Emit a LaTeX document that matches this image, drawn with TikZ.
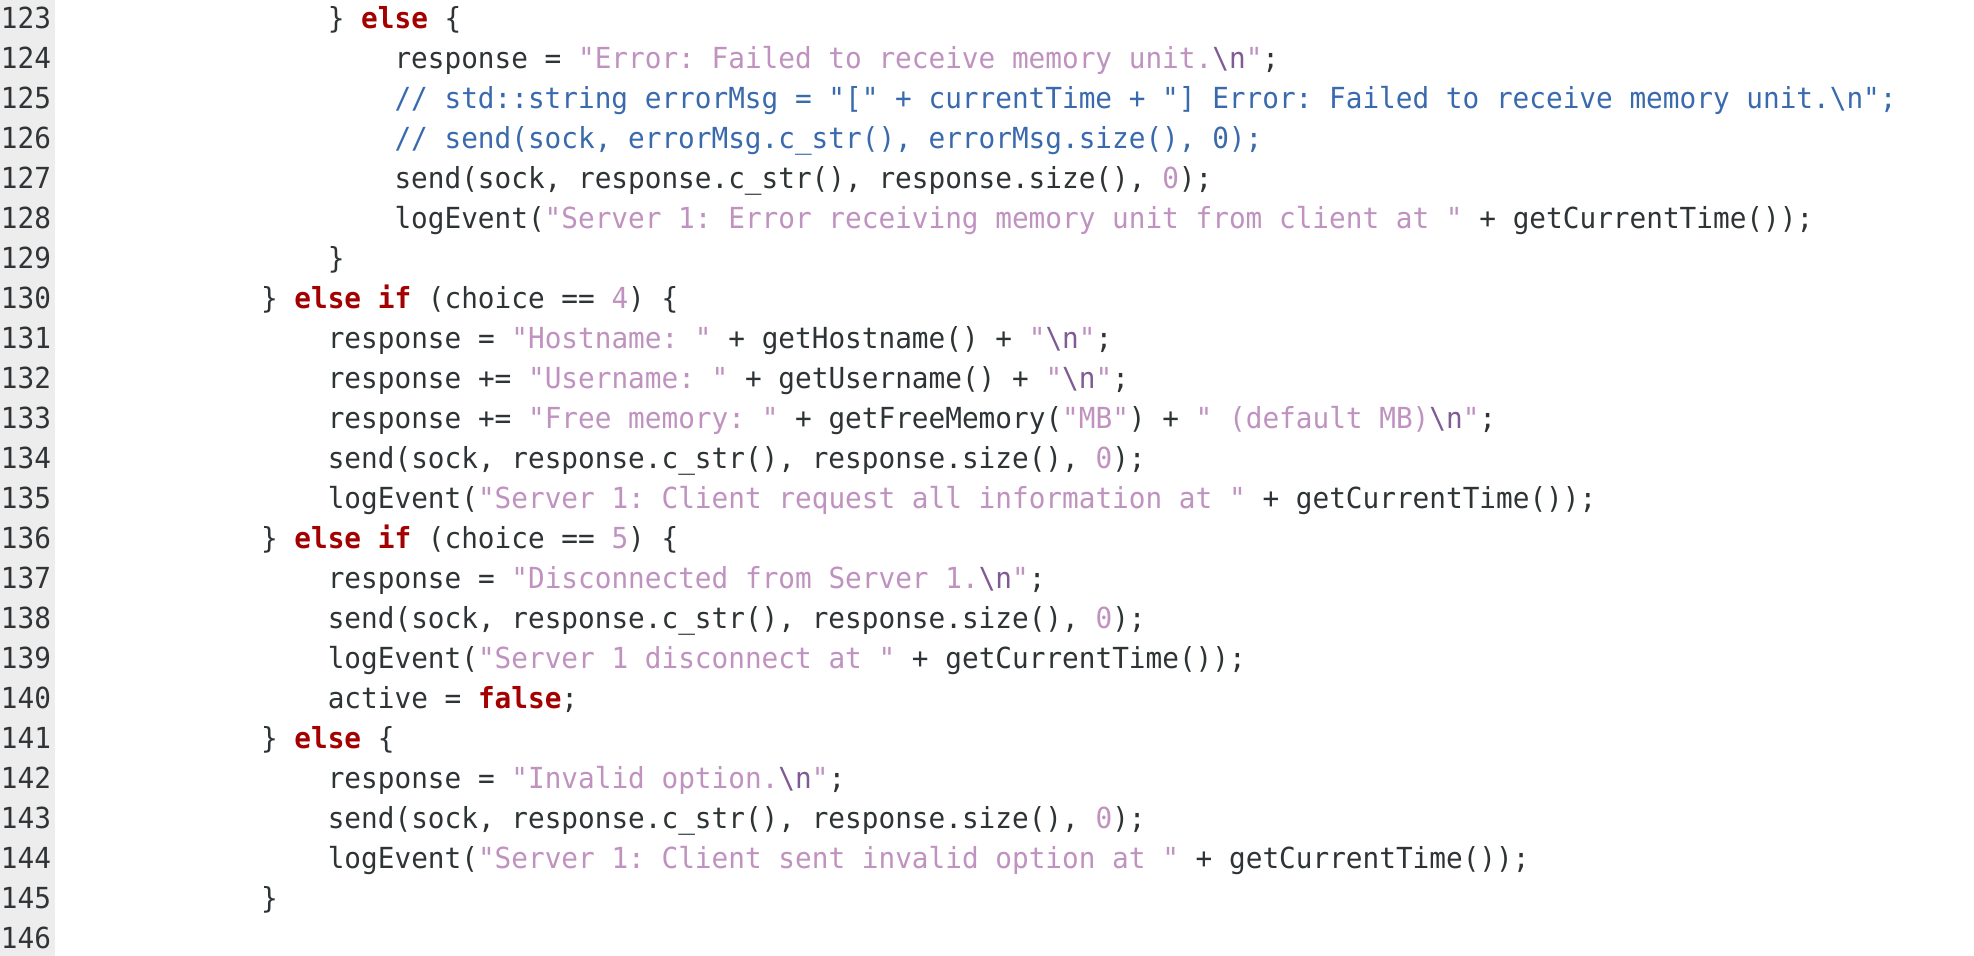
\documentclass[tikz,border=0pt]{standalone}
\usepackage{fontspec}
\usepackage{xcolor}
\newfontfamily\codefont[FakeStretch=0.956]{DejaVu Sans Mono}
\definecolor{txt}{HTML}{2E3436}
\definecolor{kwc}{HTML}{A40000}
\definecolor{strc}{HTML}{C092C0}
\definecolor{escc}{HTML}{7F5A95}
\definecolor{comc}{HTML}{3A6AAE}
\definecolor{gutc}{HTML}{EDEDED}
\definecolor{numc}{HTML}{303436}
\newcommand\ckw[1]{\textcolor{kwc}{\bfseries #1}}
\newcommand\cstr[1]{\textcolor{strc}{#1}}
\newcommand\cesc{\textcolor{escc}{\textbackslash n}}
\newcommand\ccom[1]{\textcolor{comc}{#1}}
\newcommand\cnum[1]{\textcolor{strc}{#1}}
\begin{document}
\begin{tikzpicture}[x=1pt,y=-1pt,
  codeline/.style={anchor=base west,inner sep=0pt,outer sep=0pt,text=txt,
    font=\codefont\fontsize{29}{40}\selectfont\frenchspacing},
  lnum/.style={anchor=base east,inner sep=0pt,outer sep=0pt,text=numc,
    font=\codefont\fontsize{29}{40}\selectfont}]
\useasboundingbox (0,0) rectangle (1974,956);
\fill[white] (0,0) rectangle (1974,956);
\fill[gutc] (0,0) rectangle (55,956);
% line numbers
\foreach \n [count=\i from 0] in {123,...,146}
  \node[lnum] (n\n) at (51,28+40*\i) {\n};
% code
\def\xA{261}\def\xB{327.8}\def\xC{394.5}
\node[codeline] (l123) at (\xB,28) {\} \ckw{else} \{};
\node[codeline] (l124) at (\xC,68) {response = \cstr{"Error: Failed to receive memory unit.\cesc"};};
\node[codeline] (l125) at (\xC,108) {\ccom{// std::string errorMsg = "[" + currentTime + "] Error: Failed to receive memory unit.\textbackslash n";}};
\node[codeline] (l126) at (\xC,148) {\ccom{// send(sock, errorMsg.c\_str(), errorMsg.size(), 0);}};
\node[codeline] (l127) at (\xC,188) {send(sock, response.c\_str(), response.size(), \cnum{0});};
\node[codeline] (l128) at (\xC,228) {logEvent(\cstr{"Server 1: Error receiving memory unit from client at "} + getCurrentTime());};
\node[codeline] (l129) at (\xB,268) {\}};
\node[codeline] (l130) at (\xA,308) {\} \ckw{else} \ckw{if} (choice == \cnum{4}) \{};
\node[codeline] (l131) at (\xB,348) {response = \cstr{"Hostname: "} + getHostname() + \cstr{"\cesc"};};
\node[codeline] (l132) at (\xB,388) {response += \cstr{"Username: "} + getUsername() + \cstr{"\cesc"};};
\node[codeline] (l133) at (\xB,428) {response += \cstr{"Free memory: "} + getFreeMemory(\cstr{"MB"}) + \cstr{" (default MB)\cesc"};};
\node[codeline] (l134) at (\xB,468) {send(sock, response.c\_str(), response.size(), \cnum{0});};
\node[codeline] (l135) at (\xB,508) {logEvent(\cstr{"Server 1: Client request all information at "} + getCurrentTime());};
\node[codeline] (l136) at (\xA,548) {\} \ckw{else} \ckw{if} (choice == \cnum{5}) \{};
\node[codeline] (l137) at (\xB,588) {response = \cstr{"Disconnected from Server 1.\cesc"};};
\node[codeline] (l138) at (\xB,628) {send(sock, response.c\_str(), response.size(), \cnum{0});};
\node[codeline] (l139) at (\xB,668) {logEvent(\cstr{"Server 1 disconnect at "} + getCurrentTime());};
\node[codeline] (l140) at (\xB,708) {active = \ckw{false};};
\node[codeline] (l141) at (\xA,748) {\} \ckw{else} \{};
\node[codeline] (l142) at (\xB,788) {response = \cstr{"Invalid option.\cesc"};};
\node[codeline] (l143) at (\xB,828) {send(sock, response.c\_str(), response.size(), \cnum{0});};
\node[codeline] (l144) at (\xB,868) {logEvent(\cstr{"Server 1: Client sent invalid option at "} + getCurrentTime());};
\node[codeline] (l145) at (\xA,908) {\}};
\end{tikzpicture}
\end{document}
